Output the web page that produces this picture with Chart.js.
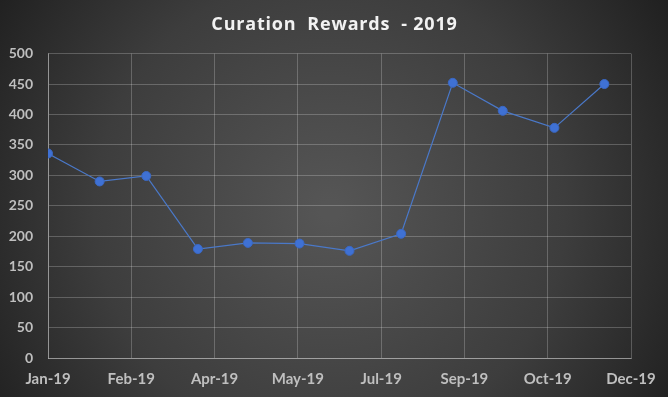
<!DOCTYPE html>
<html>
<head>
<meta charset="utf-8">
<script src="https://cdn.jsdelivr.net/npm/chart.js@4/dist/chart.umd.min.js"></script>
<style>
  html, body { margin: 0; padding: 0; background: #2b2b2b; }
  #wrap { width: 668px; height: 397px; }
</style>
</head>
<body>
<div id="wrap"><canvas id="rewardsChart" width="668" height="397"></canvas></div>
<script>
// DATA
const months = ["2019-01-01", "2019-02-01", "2019-03-01", "2019-04-01", "2019-05-01", "2019-06-01",
                "2019-07-01", "2019-08-01", "2019-09-01", "2019-10-01", "2019-11-01", "2019-12-01"];
const rewards = [336, 290, 299, 179, 189, 188, 176, 204, 452, 406, 378, 450];
const tickLabels = ["Jan-19", "Feb-19", "Apr-19", "May-19", "Jul-19", "Sep-19", "Oct-19", "Dec-19"];
const yTicks = [0, 50, 100, 150, 200, 250, 300, 350, 400, 450, 500];

// x axis is days since Jan 1 (excel date axis, major unit 50 days)
const DAY = 86400000;
const start = Date.UTC(2019, 0, 1);
const points = months.map((m, i) => ({ x: (Date.parse(m) - start) / DAY, y: rewards[i] }));

// BACKGROUND GRADIENT
const bgPlugin = {
  id: "bg",
  beforeDraw(chart) {
    const ctx = chart.ctx;
    const g = ctx.createRadialGradient(330, 210, 10, 330, 210, 420);
    g.addColorStop(0, "#555555");
    g.addColorStop(0.55, "#3d3d3d");
    g.addColorStop(1, "#1c1c1c");
    ctx.save();
    ctx.fillStyle = g;
    ctx.fillRect(0, 0, chart.width, chart.height);
    ctx.restore();
  }
};

const tickFont = (size) => ({ family: "Lato, 'Open Sans', sans-serif", size, weight: "bold" });

const chart = new Chart(document.getElementById("rewardsChart"), {
  type: "line",
  data: {
    datasets: [{
      data: points,
      borderColor: "#4a78c8",
      borderWidth: 1.2,
      backgroundColor: "#3f71d4",
      pointBackgroundColor: "#3f71d4",
      pointBorderColor: "#3a68c4",
      pointBorderWidth: 1,
      pointRadius: 4.5,
      tension: 0
    }]
  },
  options: {
    responsive: false,
    animation: false,
    layout: { padding: { left: 0, right: 37, top: 0, bottom: 0 } },
    plugins: {
      legend: { display: false },
      tooltip: { enabled: false },
      title: {
        display: true,
        text: "Curation  Rewards  - 2019",
        color: "#f2f2f2",
        font: { family: "'Open Sans', sans-serif", size: 18, weight: "bold" },
        padding: { top: 14, bottom: 18 }
      }
    },
    scales: {
      x: {
        type: "linear",
        min: 0,
        max: 350,
        afterBuildTicks(scale) {
          scale.ticks = tickLabels.map((_, i) => ({ value: i * 50 }));
        },
        afterFit(scale) {
          scale.height = 39;
          scale.paddingLeft = 0;
          scale.paddingRight = 0;
        },
        ticks: {
          autoSkip: false,
          maxRotation: 0,
          padding: 12,
          color: "#bfbfbf",
          font: tickFont(15),
          callback: (v) => tickLabels[v / 50]
        },
        grid: { color: "rgba(255,255,255,0.22)", drawTicks: false },
        border: { color: "rgba(255,255,255,0.35)" }
      },
      y: {
        min: 0,
        max: 500,
        afterBuildTicks(scale) {
          scale.ticks = yTicks.map(v => ({ value: v }));
        },
        afterFit(scale) {
          scale.width = 48;
        },
        ticks: {
          padding: 15,
          color: "#bfbfbf",
          font: tickFont(14)
        },
        grid: { color: "rgba(255,255,255,0.22)", drawTicks: false },
        border: { color: "rgba(255,255,255,0.35)" }
      }
    }
  },
  plugins: [bgPlugin]
});

// title is letter-spaced and centred on the whole picture in the original
const tb = chart.titleBlock;
if (tb) {
  const origDraw = tb.draw.bind(tb);
  tb.draw = function () {
    this.ctx.save();
    this.ctx.letterSpacing = "0.8px";
    this.ctx.translate(19, 0);
    origDraw();
    this.ctx.restore();
  };
  chart.draw();
}
</script>
</body>
</html>
